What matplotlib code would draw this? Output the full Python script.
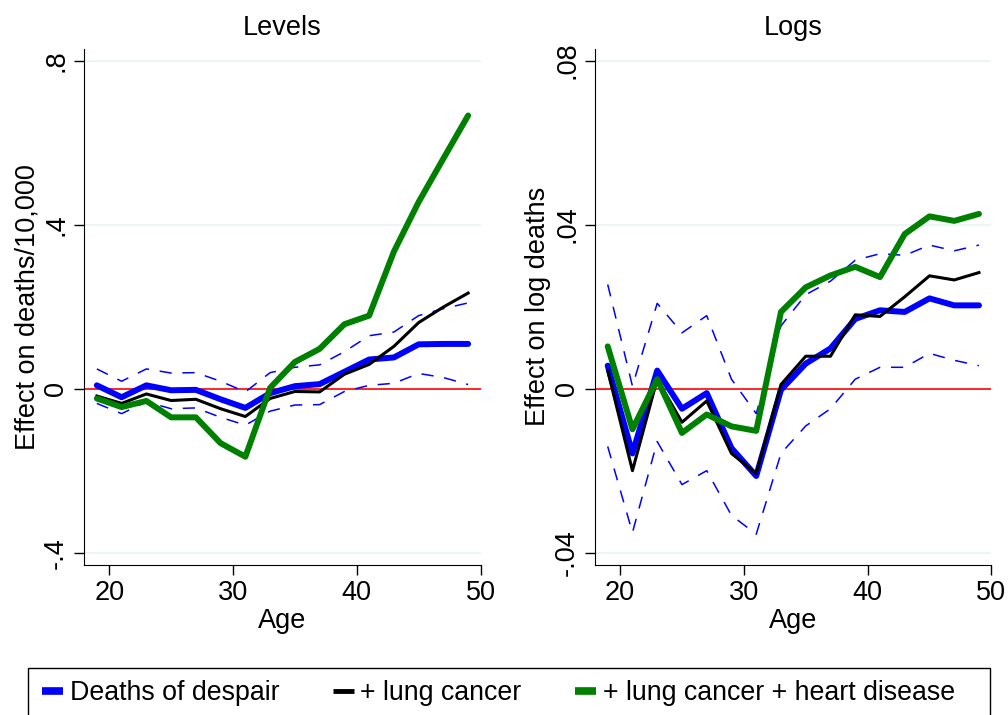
import numpy as np
import matplotlib.pyplot as plt
from matplotlib.patches import Rectangle

plt.rcParams['font.family'] = ['Liberation Sans', 'DejaVu Sans']

ages = np.arange(19, 50, 2)

# Levels panel
lev_despair = [0.008, -0.021, 0.008, -0.004, -0.003, -0.026, -0.047, -0.011,
               0.006, 0.011, 0.041, 0.071, 0.076, 0.108, 0.109, 0.109]
lev_lung = [-0.018, -0.036, -0.013, -0.029, -0.026, -0.049, -0.068, -0.024,
            -0.007, -0.008, 0.035, 0.059, 0.103, 0.161, 0.199, 0.233]
lev_heart = [-0.024, -0.045, -0.030, -0.070, -0.070, -0.133, -0.166, 0.002,
             0.065, 0.097, 0.157, 0.178, 0.334, 0.455, 0.561, 0.666]
lev_hi = [0.048, 0.018, 0.048, 0.038, 0.039, 0.018, -0.008, 0.039,
          0.052, 0.058, 0.090, 0.129, 0.138, 0.178, 0.195, 0.209]
lev_lo = [-0.036, -0.061, -0.032, -0.049, -0.047, -0.070, -0.089, -0.055,
          -0.040, -0.039, -0.007, 0.008, 0.013, 0.037, 0.027, 0.010]

# Logs panel
log_despair = [0.0056, -0.0158, 0.0044, -0.0049, -0.0011, -0.0145, -0.0213, -0.0003,
               0.0061, 0.0098, 0.0170, 0.0191, 0.0187, 0.0220, 0.0203, 0.0203]
log_lung = [0.0044, -0.0200, 0.0023, -0.0082, -0.0030, -0.0158, -0.0207, 0.0010,
            0.0079, 0.0079, 0.0180, 0.0176, 0.0224, 0.0275, 0.0265, 0.0283]
log_heart = [0.0103, -0.0099, 0.0023, -0.0108, -0.0063, -0.0092, -0.0103, 0.0187,
             0.0247, 0.0276, 0.0297, 0.0272, 0.0377, 0.0420, 0.0409, 0.0426]
log_hi = [0.0254, 0.0006, 0.0208, 0.0136, 0.0178, 0.0023, -0.0061, 0.0153,
          0.0229, 0.0262, 0.0313, 0.0329, 0.0325, 0.0350, 0.0336, 0.0350]
log_lo = [-0.0141, -0.0351, -0.0129, -0.0234, -0.0200, -0.0309, -0.0355, -0.0158,
          -0.0091, -0.0049, 0.0023, 0.0052, 0.0052, 0.0086, 0.0069, 0.0056]

lev_ticks = [-0.4, 0, 0.4, 0.8]
lev_ticklabels = ['-.4', '0', '.4', '.8']
log_ticks = [-0.04, 0, 0.04, 0.08]
log_ticklabels = ['-.04', '0', '.04', '.08']
x_ticks = [20, 30, 40, 50]

FS = 19.5

fig = plt.figure(figsize=(10.08, 7.15), dpi=100)
ax1 = fig.add_axes([0.0838, 0.2098, 0.3929, 0.7222])
ax2 = fig.add_axes([0.5906, 0.2098, 0.3929, 0.7222])


def draw(ax, despair, lung, heart, hi, lo, ticks, ticklabels, ylim, title, ylabel):
    for t in ticks:
        if t != 0:
            ax.axhline(t, color='#eaf2f3', lw=1.2, zorder=0)
    ax.axhline(0, color='red', lw=1.2, zorder=1)
    ax.plot(ages, hi, color='blue', lw=1.1, dashes=(8, 7), zorder=2)
    ax.plot(ages, lo, color='blue', lw=1.1, dashes=(8, 7), zorder=2)
    ax.plot(ages, despair, color='blue', lw=4.3, solid_capstyle='round', zorder=3)
    ax.plot(ages, lung, color='black', lw=2.2, zorder=4)
    ax.plot(ages, heart, color='green', lw=4.3, solid_capstyle='round', zorder=5)
    ax.set_xlim(18, 50)
    ax.set_ylim(*ylim)
    ax.set_xticks(x_ticks)
    ax.set_yticks(ticks)
    ax.set_yticklabels(ticklabels, rotation=90, va='center')
    ax.tick_params(direction='out', length=7, width=1, labelsize=FS, pad=4)
    ax.spines['top'].set_visible(False)
    ax.spines['right'].set_visible(False)
    ax.set_title(title, fontsize=FS, pad=10)
    ax.set_xlabel('Age', fontsize=FS, labelpad=1)
    ax.set_ylabel(ylabel, fontsize=FS, labelpad=2)


draw(ax1, lev_despair, lev_lung, lev_heart, lev_hi, lev_lo,
     lev_ticks, lev_ticklabels, (-0.430, 0.829), 'Levels', 'Effect on deaths/10,000')
draw(ax2, log_despair, log_lung, log_heart, log_hi, log_lo,
     log_ticks, log_ticklabels, (-0.0430, 0.0829), 'Logs', 'Effect on log deaths')

# legend frame runs off the bottom edge, as in the original export
fig.patches.append(Rectangle((28 / 1008, -0.05), 962 / 1008, 0.05 + 1 - 668 / 715,
                             transform=fig.transFigure, fill=False,
                             edgecolor='black', lw=1.0))

handles = [plt.Line2D([], [], color='blue', lw=5.5, solid_capstyle='butt'),
           plt.Line2D([], [], color='black', lw=3.5, solid_capstyle='butt'),
           plt.Line2D([], [], color='green', lw=5.5, solid_capstyle='butt')]
labels = ['Deaths of despair', '+ lung cancer', '+ lung cancer + heart disease']
fig.legend(handles, labels, loc='center left', ncol=3,
           bbox_to_anchor=(42 / 1008, 1 - 693 / 715),
           fontsize=19.3, frameon=False,
           handlelength=0.78, handletextpad=0.25, borderpad=0,
           columnspacing=2.0, borderaxespad=0)

fig.savefig('out.png', dpi=100)
